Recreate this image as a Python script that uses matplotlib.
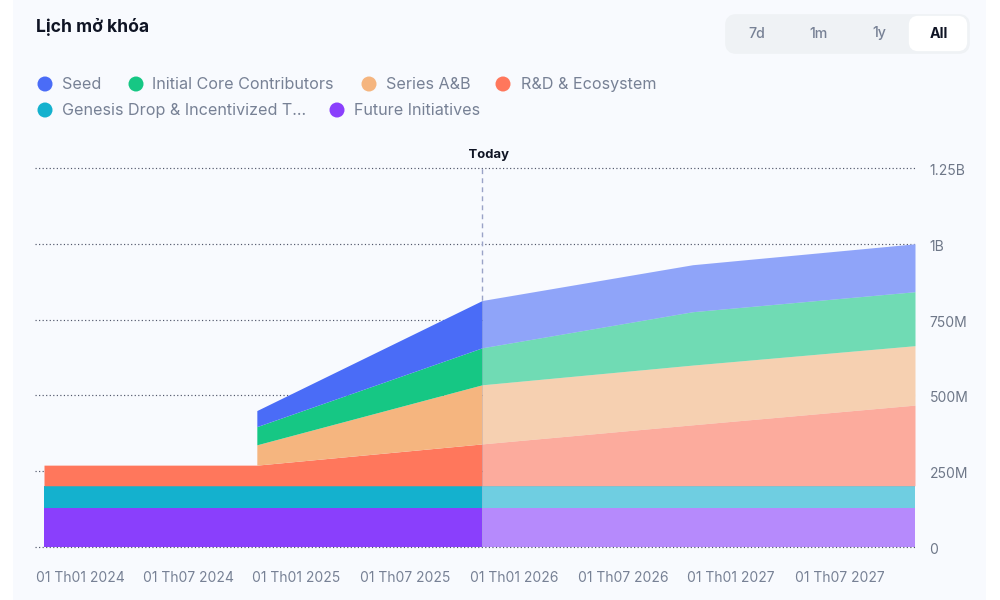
import matplotlib
matplotlib.use("Agg")
import matplotlib.pyplot as plt
import matplotlib.dates as mdates
import matplotlib.transforms as mtrans
from matplotlib.patches import Circle, FancyBboxPatch, Rectangle
import numpy as np

plt.rcParams['font.family'] = ['Inter', 'DejaVu Sans']

# ---- data -------------------------------------------------------------
dates = ["2024-01-01", "2024-12-23", "2024-12-23", "2026-01-05", "2026-12-24", "2028-01-01"]
today = "2026-01-05"
future_initiatives = [129, 129, 129, 129, 129, 129]
genesis_drop = [73, 73, 73, 73, 73, 73]
rd_ecosystem = [68, 68, 68, 138, 201, 266]
series_ab = [0, 0, 67, 195, 197, 196]
core_contributors = [0, 0, 60, 122, 176, 178]
seed = [0, 0, 53, 156, 155, 158]

stack_names = ["Future Initiatives", "Genesis Drop & Incentivized T...", "R&D & Ecosystem",
               "Series A&B", "Initial Core Contributors", "Seed"]
stack_values = [future_initiatives, genesis_drop, rd_ecosystem, series_ab, core_contributors, seed]
stack_colors = ["#8A3FFC", "#14B1CE", "#FF775C", "#F5B57F", "#16C784", "#4A6CF7"]

x_tick_dates = ["2024-01-01", "2024-07-01", "2025-01-01", "2025-07-01",
                "2026-01-01", "2026-07-01", "2027-01-01", "2027-07-01"]
x_tick_labels = ["01 Th01 2024", "01 Th07 2024", "01 Th01 2025", "01 Th07 2025",
                 "01 Th01 2026", "01 Th07 2026", "01 Th01 2027", "01 Th07 2027"]
y_ticks = [0, 250, 500, 750, 1000, 1250]
y_tick_labels = ["0", "250M", "500M", "750M", "1B", "1.25B"]
ranges = ["7d", "1m", "1y", "All"]

# legend rows, in reading order
legend_labels = ["Seed", "Initial Core Contributors", "Series A&B", "R&D & Ecosystem",
                 "Genesis Drop & Incentivized T...", "Future Initiatives"]
legend_colors = ["#4A6CF7", "#16C784", "#F5B57F", "#FF775C", "#14B1CE", "#8A3FFC"]
legend_cx = [45, 136, 369, 503, 45, 337]
legend_tx = [62, 152, 386, 521, 62, 354]
legend_cy = [84, 84, 84, 84, 110, 110]
range_cx = [757, 819, 879, 939]

GREY = "#778195"
DARK = "#0F1424"
BG = "#F8FAFE"
# -----------------------------------------------------------------------

fig = plt.figure(figsize=(10, 6), dpi=100, facecolor="white")

# page layer in pixel coordinates
bg = fig.add_axes([0, 0, 1, 1], zorder=0)
bg.set_xlim(0, 1000)
bg.set_ylim(600, 0)
bg.axis("off")
bg.add_patch(Rectangle((13, 0), 973, 600, fc=BG, ec="none"))
bg.text(35.5, 27.5, "Lịch mở khóa", fontsize=12.6, fontweight="bold", color=DARK, va="center", ha="left")

bg.add_patch(FancyBboxPatch((730, 19), 235, 30, boxstyle="round,pad=0,rounding_size=6",
                            fc="#EFF2F5", ec="#EFF2F5", lw=7))
bg.add_patch(FancyBboxPatch((913, 20), 50, 27, boxstyle="round,pad=0,rounding_size=5",
                            fc="white", ec="white", lw=6))
for name, cx in zip(ranges, range_cx):
    sel = name == "All"
    bg.text(cx, 33.5, name, fontsize=10.2, fontweight="bold" if sel else "medium",
            color=DARK if sel else GREY, ha="center", va="center")

for lab, col, cx, tx, cy in zip(legend_labels, legend_colors, legend_cx, legend_tx, legend_cy):
    bg.add_patch(Circle((cx, cy), 7.5, fc=col, ec="none"))
    bg.text(tx, cy + 0.8, lab, fontsize=11.6, color=GREY, ha="left", va="center")

# chart: plot area spans pixels x 35..915, y 168..547
ax = fig.add_axes([0.035, 1 - 547 / 600, 0.880, (547 - 168) / 600], zorder=1)
ax.patch.set_alpha(0)
t = mdates.date2num(np.array(dates, dtype="datetime64[D]"))
t_today = mdates.date2num(np.datetime64(today))
t0, t1 = t[0], t[-1]
ax.set_xlim(t0 - (t1 - t0) * 9 / 871, t1)
ax.set_ylim(0, 1250)

tops = np.cumsum(np.array(stack_values, dtype=float), axis=0)
bottoms = np.vstack([np.zeros(len(t)), tops[:-1]])
past = t <= t_today
fut = t >= t_today
# opaque backing so the grid does not show through the lighter forecast part
ax.fill_between(t[fut], 0, tops[-1][fut], color=BG, lw=0, zorder=2)
for name, lo, hi, col in zip(stack_names, bottoms, tops, stack_colors):
    ax.fill_between(t[past], lo[past], hi[past], color=col, lw=0, zorder=2)
    ax.fill_between(t[fut], lo[fut], hi[fut], color=col, alpha=0.6, lw=0, zorder=2)

for v in y_ticks:
    ax.axhline(v, color="#50566A", lw=0.85, ls=(0, (1, 2)), zorder=3 if v == 0 else 1, clip_on=False)
ax.plot([t_today, t_today], [tops[-1][past][-1], 1250], color="#9AA3C7", lw=1, ls=(0, (3.5, 3)), zorder=4)
ax.plot([t_today, t_today], [0, tops[-1][past][-1]], color="#9AA3C7", lw=0.6, alpha=0.35, zorder=4)
ax.text(t_today, 1.018, "    Today", transform=ax.get_xaxis_transform(), fontsize=9.4, fontweight="bold",
        color=DARK, ha="center", va="bottom")

for s in ax.spines.values():
    s.set_visible(False)
ax.yaxis.tick_right()
ax.set_yticks(y_ticks, y_tick_labels, fontsize=10, color="#6E7788")
ax.tick_params(axis="y", length=0, pad=10.5)
ax.set_xticks(mdates.date2num(np.array(x_tick_dates, dtype="datetime64[D]")), x_tick_labels,
              fontsize=10, color=GREY)
ax.tick_params(axis="x", length=0, pad=17)
shift = mtrans.ScaledTranslation(-10 / 100, 0, fig.dpi_scale_trans)
first_shift = mtrans.ScaledTranslation(-8 / 100, 0, fig.dpi_scale_trans)
for i, lab in enumerate(ax.get_xticklabels()):
    lab.set_ha("left")
    lab.set_transform(lab.get_transform() + (first_shift if i == 0 else shift))
down = mtrans.ScaledTranslation(0, -1.5 / 100, fig.dpi_scale_trans)
for lab in ax.get_yticklabels():
    lab.set_transform(lab.get_transform() + down)

fig.savefig("out.png", dpi=100, facecolor=fig.get_facecolor())
